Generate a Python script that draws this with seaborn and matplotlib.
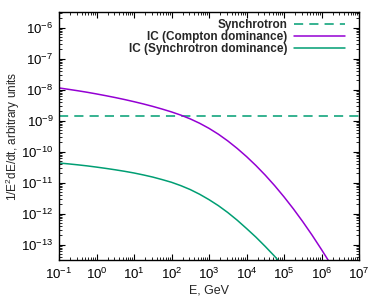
import numpy as np
import pandas as pd
import matplotlib
matplotlib.use("Agg")
import matplotlib.pyplot as plt
import seaborn as sns
from matplotlib.ticker import FixedLocator, LogLocator, LogFormatterMathtext, NullFormatter

# ---- data (log10 units) ----
log_energy = [-1.0, -0.75, -0.5, -0.25, 0.0, 0.25, 0.5, 0.75, 1.0, 1.25, 1.5, 1.75,
              2.0, 2.25, 2.5, 2.75, 3.0, 3.25, 3.5, 3.75, 4.0, 4.25, 4.5, 4.75,
              5.0, 5.25, 5.5, 5.75, 6.0, 6.25]
log_ic_compton = [-7.950, -7.994, -8.040, -8.089, -8.143, -8.200, -8.260, -8.324,
                  -8.393, -8.466, -8.545, -8.631, -8.723, -8.827, -8.948, -9.089,
                  -9.253, -9.442, -9.658, -9.899, -10.163, -10.451, -10.763, -11.100,
                  -11.463, -11.850, -12.263, -12.700, -13.163, -13.644]
log_ic_synchrotron = [-10.370, -10.399, -10.430, -10.464, -10.503, -10.545, -10.590,
                      -10.639, -10.693, -10.756, -10.825, -10.906, -10.993, -11.102,
                      -11.228, -11.379, -11.553, -11.747, -11.968, -12.214, -12.483,
                      -12.761, -13.063, -13.380, -13.733, None, None, None, None, None]

energy_sync = [1e-1, 1e7]
synchrotron = [1.38e-9, 1.38e-9]

x_ticks = [1e-1, 1e0, 1e1, 1e2, 1e3, 1e4, 1e5, 1e6, 1e7]
y_ticks = [1e-13, 1e-12, 1e-11, 1e-10, 1e-9, 1e-8, 1e-7, 1e-6]

labels = ["Synchrotron", "IC (Compton dominance)", "IC (Synchrotron dominance)"]
colors = ["#009E73", "#9400D3", "#009E73"]

# ---- tables ----
E = [10.0 ** v for v in log_energy]
df_s = pd.DataFrame({"E": energy_sync, "F": synchrotron})
df_c = pd.DataFrame({"E": E, "F": [10.0 ** v for v in log_ic_compton]})
df_g = pd.DataFrame({"E": E, "F": [10.0 ** v if v is not None else np.nan
                                   for v in log_ic_synchrotron]}).dropna()

# ---- style ----
sns.set_style("ticks")
plt.rcParams["font.family"] = ["Liberation Sans", "DejaVu Sans"]
plt.rcParams["mathtext.fontset"] = "custom"
plt.rcParams["mathtext.rm"] = "Liberation Sans"
plt.rcParams["mathtext.it"] = "Liberation Sans:italic"
plt.rcParams["mathtext.bf"] = "Liberation Sans:bold"

fig = plt.figure(figsize=(3.81, 2.99), dpi=100)
ax = fig.add_axes([59/381, 1-260/299, 300/381, 248/299])

sns.lineplot(data=df_s, x="E", y="F", ax=ax, color=colors[0], lw=1.1,
             label=labels[0])
ax.lines[-1].set_dashes([6, 4])
sns.lineplot(data=df_c, x="E", y="F", ax=ax, color=colors[1], lw=1.1, label=labels[1])
sns.lineplot(data=df_g, x="E", y="F", ax=ax, color=colors[2], lw=1.1, label=labels[2])

ax.set_xscale("log")
ax.set_yscale("log")
ax.set_xlim(1e-1, 1e7)
ax.set_ylim(10**-13.5, 10**-5.5)

ax.xaxis.set_major_locator(FixedLocator(x_ticks))
ax.yaxis.set_major_locator(FixedLocator(y_ticks))
for a in (ax.xaxis, ax.yaxis):
    a.set_minor_locator(LogLocator(base=10, subs=np.arange(2, 10), numticks=20))
    a.set_major_formatter(LogFormatterMathtext())
    a.set_minor_formatter(NullFormatter())

ax.tick_params(which="both", direction="in", top=True, right=True, colors="black",
               labelsize=9.5)
ax.tick_params(which="major", length=4, width=0.8)
ax.tick_params(which="minor", length=2, width=0.6)
ax.tick_params(axis="x", which="major", pad=5)
ax.tick_params(axis="y", which="major", pad=4)
for s in ax.spines.values():
    s.set_color("black")
    s.set_linewidth(1.0)

ax.set_xlabel("E, GeV", fontsize=9, labelpad=2)
ax.set_ylabel(r"1/E$^{\mathregular{2}}$dE/dt, arbitrary units", fontsize=8.5)
ax.yaxis.set_label_coords(-0.125, 0.5)

leg = ax.legend(loc="upper right", bbox_to_anchor=(345/381, 1-19/299),
                bbox_transform=fig.transFigure, frameon=False, markerfirst=False,
                handlelength=4.3, handletextpad=0.6, labelspacing=0.0,
                borderpad=0, borderaxespad=0, prop={"weight": "bold", "size": 8.5})

fig.savefig("out.png", dpi=100)
